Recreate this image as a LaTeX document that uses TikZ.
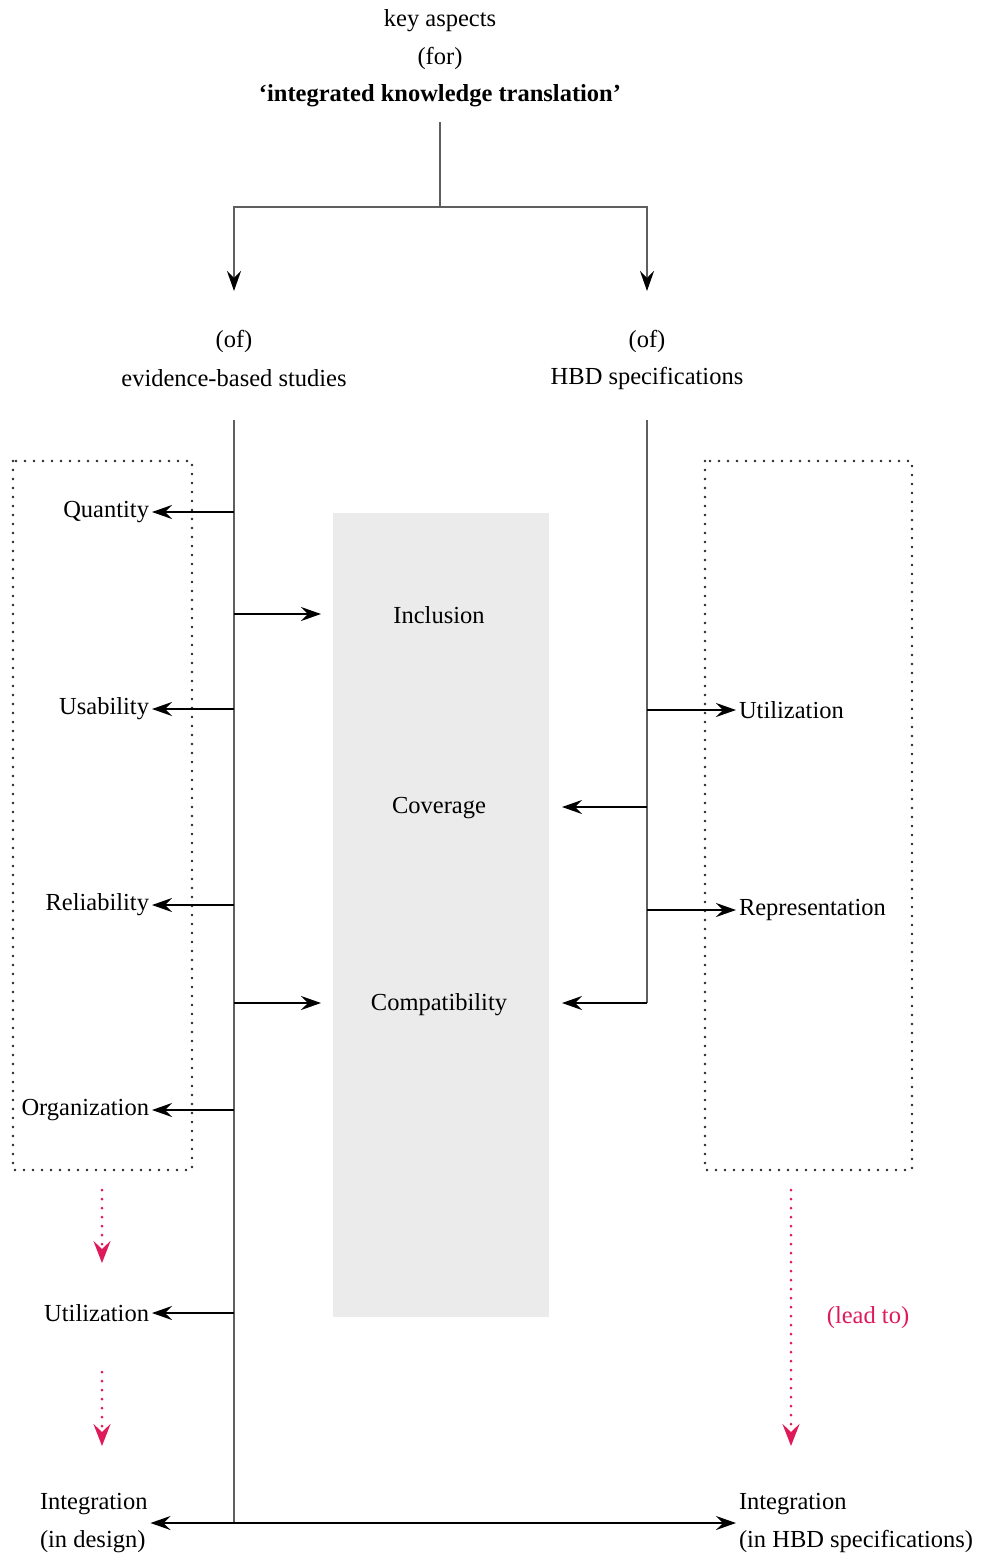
\documentclass[tikz,border=0pt]{standalone}
\usepackage{fontspec}
\setmainfont{Liberation Serif}
\usetikzlibrary{arrows.meta}
\definecolor{leadpink}{RGB}{222,26,90}
\definecolor{boxgray}{RGB}{235,235,235}
\definecolor{trunkgray}{RGB}{95,95,95}
\begin{document}
\begin{tikzpicture}[x=1pt,y=-1pt,
  lbl/.style={font=\fontsize{24.5}{38}\selectfont, inner sep=0pt, outer xsep=3pt},
  arr/.style={-{Stealth[length=20pt,width=14pt,inset=7pt]}, line width=1.6pt, draw=black},
  dblarr/.style={{Stealth[length=20pt,width=14pt,inset=7pt]}-{Stealth[length=20pt,width=14pt,inset=7pt]}, line width=1.6pt, draw=black},
  forkarr/.style={-{Stealth[length=20pt,width=14pt,inset=7pt,color=black]}, line width=1.6pt, draw=trunkgray},
  trunk/.style={line width=1.6pt, draw=trunkgray},
  dotbox/.style={draw=black!85, line width=2.7pt, dash pattern=on 0pt off 9pt, line cap=round},
  leadarr/.style={draw=leadpink, line width=3pt, dash pattern=on 0pt off 9pt, line cap=round,
    -{Stealth[length=22pt,width=17pt,inset=8pt,line cap=butt]}}
]
\useasboundingbox (0,0) rectangle (986,1555);

% heading
\node[lbl] (key) at (440,21) {key aspects};
\node[lbl] (for) at (440,58) {(for)};
\node[lbl,font=\fontsize{24.5}{38}\selectfont\bfseries] (title) at (440,96) {‘integrated knowledge translation’};

% split towards the two branches
\coordinate (top) at (440,122);
\coordinate (fork) at (440,207);
\coordinate (inL) at (234,291);
\coordinate (inR) at (647,291);
\draw[trunk] (top) -- (fork);
\draw[forkarr] (fork) -| (inL);
\draw[forkarr] (fork) -| (inR);

\node[lbl] (ofL) at (234,341) {(of)};
\node[lbl] (ebs) at (234,378) {evidence-based studies};
\node[lbl] (ofR) at (647,341) {(of)};
\node[lbl] (hbd) at (647,378) {HBD specifications};

% frames and shaded core
\draw[dotbox] (13,461) rectangle (192,1170);
\draw[dotbox] (705,461) rectangle (912,1170);
\node[fill=boxgray, minimum width=216pt, minimum height=804pt, inner sep=0pt] (core) at (441,915) {};

% core aspects
\node[lbl] (inclusion) at (439,615) {Inclusion};
\node[lbl] (coverage) at (439,808) {Coverage};
\node[lbl] (compat) at (439,1005) {Compatibility};

% left-hand aspects
\node[lbl,anchor=east] (quantity) at (152,512) {Quantity};
\node[lbl,anchor=east] (usability) at (152,709) {Usability};
\node[lbl,anchor=east] (reliability) at (152,905) {Reliability};
\node[lbl,anchor=east] (organization) at (152,1110) {Organization};
\node[lbl,anchor=east] (utilL) at (152,1313) {Utilization};
\node[lbl,anchor=west,align=left] (integL) at (37,1523) {Integration\\(in design)};

% right-hand aspects
\node[lbl,anchor=west] (utilR) at (736,710) {Utilization};
\node[lbl,anchor=west] (repr) at (736,910) {Representation};
\node[lbl,anchor=west,align=left] (integR) at (736,1523) {Integration\\(in HBD specifications)};

% trunks
\coordinate (tL) at (234,420);
\coordinate (bL) at (234,1523);
\coordinate (tR) at (647,420);
\coordinate (bR) at (647,1003);
\draw[trunk] (tL) -- (bL);
\draw[trunk] (tR) -- (bR);

% branches from the left trunk
\coordinate (incIn) at (321,614);
\coordinate (comIn) at (321,1003);
\draw[arr] (quantity.east -| tL) -- (quantity.east);
\draw[arr] (incIn -| tL) -- (incIn);
\draw[arr] (usability.east -| tL) -- (usability.east);
\draw[arr] (reliability.east -| tL) -- (reliability.east);
\draw[arr] (comIn -| tL) -- (comIn);
\draw[arr] (organization.east -| tL) -- (organization.east);
\draw[arr] (utilL.east -| tL) -- (utilL.east);
\draw[dblarr] (integL.east) -- (integR.west);

% branches from the right trunk
\coordinate (covIn) at (562,807);
\coordinate (cmpIn) at (562,1003);
\draw[arr] (utilR.west -| tR) -- (utilR.west);
\draw[arr] (covIn -| tR) -- (covIn);
\draw[arr] (repr.west -| tR) -- (repr.west);
\draw[arr] (bR) -- (cmpIn);

% "lead to" connectors
\coordinate (p1) at (102,1190);
\coordinate (p2) at (102,1263);
\coordinate (p3) at (102,1372);
\coordinate (p4) at (102,1446);
\coordinate (p5) at (791,1190);
\coordinate (p6) at (791,1446);
\draw[leadarr] (p1) -- (p2);
\draw[leadarr] (p3) -- (p4);
\draw[leadarr] (p5) -- (p6);
\node[lbl,text=leadpink] (lead) at (868,1318) {(lead to)};
\end{tikzpicture}
\end{document}
